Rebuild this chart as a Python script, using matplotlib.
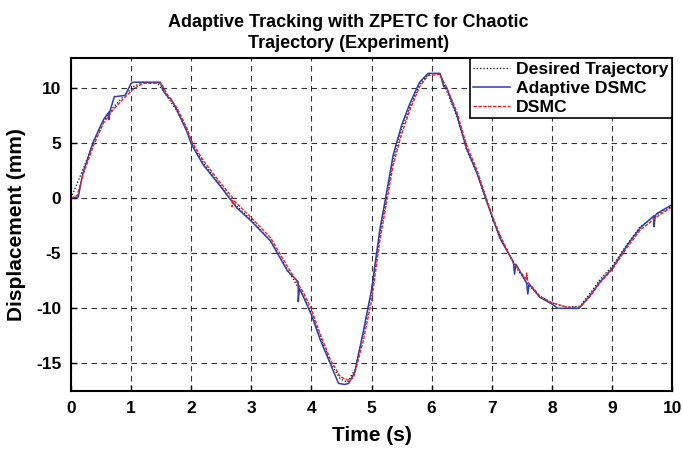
import numpy as np
import matplotlib.pyplot as plt

# 期望轨迹 (desired trajectory)
t_ref = [0, 0.1, 0.2, 0.37, 0.54, 0.7, 0.87, 1.04, 1.2, 1.43, 1.6, 1.76, 1.93, 2.0,
         2.2, 2.48, 2.76, 3.0, 3.32, 3.6, 3.87, 4.0, 4.15, 4.32, 4.48, 4.6, 4.72,
         4.86, 5.0, 5.14, 5.25, 5.36, 5.5, 5.64, 5.8, 5.94, 6.05, 6.14, 6.25, 6.42,
         6.58, 6.75, 7.0, 7.14, 7.36, 7.58, 7.8, 8.0, 8.25, 8.47, 8.64, 8.8, 9.0,
         9.25, 9.47, 9.75, 10.0]
y_ref = [0, 1.3, 2.6, 5.0, 7.0, 8.2, 9.2, 10.1, 10.5, 10.45, 9.2, 7.9, 6.1, 5.0,
         3.2, 1.2, -0.75, -2.0, -3.9, -6.5, -8.9, -10.5, -12.6, -15.0, -16.4, -16.7,
         -15.6, -12.3, -8.6, -3.2, 0.1, 3.5, 6.2, 8.3, 10.3, 11.2, 11.3, 11.2, 9.7,
         7.4, 4.4, 2.3, -1.7, -3.5, -5.9, -7.7, -8.9, -9.5, -9.9, -9.8, -8.6, -7.4,
         -6.2, -4.2, -2.6, -1.5, -0.75]

# Adaptive DSMC
t_adp = [0, 0.12, 0.2, 0.37, 0.54, 0.63, 0.63, 0.65, 0.72, 0.75, 0.9, 1.0, 1.04,
         1.2, 1.48, 1.55, 1.62, 1.66, 1.76, 1.93, 2.0, 2.2, 2.48, 2.76, 3.0, 3.32,
         3.6, 3.78, 3.78, 3.8, 3.87, 4.0, 4.15, 4.32, 4.45, 4.55, 4.62, 4.72, 4.86,
         5.0, 5.14, 5.25, 5.36, 5.5, 5.64, 5.8, 5.94, 6.14, 6.2, 6.25, 6.42, 6.58,
         6.75, 7.0, 7.14, 7.36, 7.38, 7.4, 7.58, 7.6, 7.62, 7.8, 8.0, 8.1, 8.45,
         8.64, 8.8, 9.0, 9.25, 9.47, 9.7, 9.7, 9.72, 9.75, 10.0]
y_adp = [0, 0.1, 2.3, 5.1, 7.1, 7.8, 7.1, 7.9, 9.2, 9.2, 9.3, 10.4, 10.5,
         10.5, 10.5, 9.6, 9.1, 9.0, 8.0, 6.0, 4.9, 3.0, 1.1, -0.9, -2.1, -3.9,
         -6.6, -7.6, -9.4, -8.2, -9.0, -10.6, -12.9, -15.1, -16.8, -16.9, -16.8,
         -15.8, -12.2, -8.3, -2.8, 0.5, 3.9, 6.6, 8.6, 10.5, 11.3, 11.3, 10.1, 10.0,
         7.5, 4.5, 2.3, -1.6, -3.7, -5.8, -6.9, -6.0, -7.7, -8.7, -7.8, -9.0, -9.6,
         -10.0, -10.0, -8.8, -7.6, -6.4, -4.3, -2.7, -1.6, -2.6, -1.6, -1.4, -0.6]

# DSMC
t_dsmc = [0, 0.1, 0.2, 0.37, 0.54, 0.7, 0.87, 1.04, 1.2, 1.5, 1.6, 1.76, 1.93, 2.0,
          2.2, 2.48, 2.68, 2.68, 2.7, 2.76, 3.0, 3.32, 3.6, 3.87, 4.0, 4.15, 4.32,
          4.48, 4.6, 4.7, 4.86, 5.0, 5.14, 5.25, 5.36, 5.5, 5.64, 5.8, 5.94, 6.14,
          6.25, 6.42, 6.58, 6.75, 7.0, 7.14, 7.36, 7.58, 7.58, 7.6, 7.8, 8.0, 8.25,
          8.47, 8.64, 8.8, 9.0, 9.25, 9.47, 9.75, 10.0]
y_dsmc = [0, 0.2, 2.1, 4.7, 6.8, 8.0, 9.0, 9.9, 10.4, 10.4, 9.4, 8.2, 6.3, 5.2,
          3.4, 1.4, 0.1, -0.8, -0.2, -0.5, -1.8, -3.6, -6.2, -8.6, -10.1, -12.4,
          -14.7, -16.2, -16.5, -16.3, -13.0, -9.3, -3.8, -0.4, 3.0, 5.8, 8.0, 10.1,
          11.1, 11.2, 10.0, 7.8, 4.8, 2.6, -1.5, -3.4, -5.9, -7.4, -6.8, -7.6, -8.9,
          -9.5, -9.9, -9.9, -8.9, -7.7, -6.5, -4.5, -2.9, -1.7, -0.8]

plt.rcParams['font.family'] = ['Liberation Sans', 'DejaVu Sans']
plt.rcParams['font.weight'] = 'bold'
plt.rcParams['axes.unicode_minus'] = False

fig = plt.figure(figsize=(6.83, 4.49), dpi=100)
ax = fig.add_axes([0.104, 0.129, 0.88, 0.742])

ax.plot(t_ref, y_ref, color='black', linestyle=':', linewidth=0.9, label='Desired Trajectory')
ax.plot(t_adp, y_adp, color='#2a3fb0', linestyle='-', linewidth=1.1, label='Adaptive DSMC')
ax.plot(t_dsmc, y_dsmc, color='#ee2222', linestyle='--', linewidth=1.0, dashes=(2.5, 1),
        label='DSMC')

ax.set_xlim(0, 10)
ax.set_ylim(-17.5, 12.7)
ax.set_xticks(np.arange(0, 11, 1))
ax.set_yticks([-15, -10, -5, 0, 5, 10])
ax.tick_params(direction='in', labelsize=12.5, width=1.0, length=4, pad=7)
for lbl in ax.get_xticklabels() + ax.get_yticklabels():
    lbl.set_fontweight('bold')
ax.grid(True, color='black', linestyle=(0, (5, 4)), linewidth=0.8, alpha=0.8)
for sp in ax.spines.values():
    sp.set_linewidth(1.5)

ax.set_xlabel('Time (s)', fontsize=15, fontweight='bold', labelpad=7)
ax.set_ylabel('Displacement (mm)', fontsize=15, fontweight='bold', labelpad=7)
ax.set_title('Adaptive Tracking with ZPETC for Chaotic\nTrajectory (Experiment)',
             fontsize=13, fontweight='bold', pad=7, linespacing=1.35, x=0.461)

leg = ax.legend(loc='upper right', fontsize=12.6, frameon=True, fancybox=False,
                framealpha=1, edgecolor='black', borderpad=0.2, labelspacing=0.22,
                handlelength=2.1, handletextpad=0.35, borderaxespad=0)
leg.get_frame().set_linewidth(1.2)
for txt in leg.get_texts():
    txt.set_fontweight('bold')

fig.savefig('out.png', dpi=100)
